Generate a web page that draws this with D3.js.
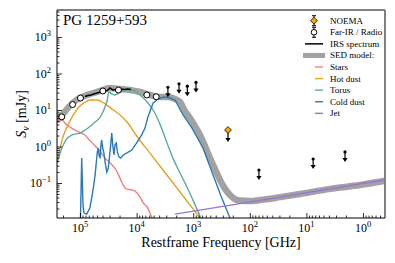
<!DOCTYPE html>
<meta charset="utf-8">
<style>
body { margin: 0; background: #fff; }
text { font-family: "Liberation Serif", "DejaVu Serif", serif; fill: #000; }
.comp { fill: none; stroke-width: 1.4px; }
</style>
<body>
<svg id="chart" width="395" height="263"></svg>
<script src="https://d3js.org/d3.v7.min.js"></script>
<script>
// PG 1259+593 SED, restframe frequency in GHz, flux density in mJy

var sedNu   = [2.55e5, 2.08e5, 1.63e5, 1.22e5, 9.2e4, 6.7e4, 4.4e4, 2.95e4, 1.96e4, 1.31e4, 8.7e3, 5.8e3, 3.86e3, 2.79e3, 2.1e3, 1.71e3, 1.40e3, 1.14e3, 930, 759, 619, 505, 412, 336, 274, 224, 183, 149, 99, 66, 29, 13, 3.8, 1.13, 0.43];
var sedFlux = [5.3, 7.3, 11.4, 17.7, 22.7, 27.4, 33.2, 40, 37.6, 35.3, 31.1, 25.8, 22.7, 22.7, 20, 16.6, 9.4, 6.0, 3.6, 2.07, 1.03, 0.48, 0.242, 0.121, 0.069, 0.047, 0.036, 0.033, 0.032, 0.034, 0.041, 0.050, 0.069, 0.088, 0.113];

var starsNu   = [2.55e5, 2.08e5, 1.77e5, 1.5e5, 1.22e5, 1.0e5, 8.2e4, 6.8e4, 5.6e4, 4.6e4, 3.6e4, 2.9e4, 2.2e4, 1.8e4, 1.5e4, 1.2e4, 1.0e4, 8.7e3, 7.6e3, 6.5e3, 5.3e3, 4.5e3];
var starsFlux = [4.4, 5.3, 4.1, 3.4, 2.8, 2.4, 2.07, 1.5, 1.1, 0.8, 0.48, 0.35, 0.2, 0.1, 0.068, 0.065, 0.055, 0.041, 0.028, 0.022, 0.011, 0.0085];

var hotNu   = [2.55e5, 2.25e5, 2.0e5, 1.7e5, 1.38e5, 1.08e5, 8.5e4, 6.7e4, 5.0e4, 3.8e4, 2.72e4, 1.96e4, 1.48e4, 9.4e3, 5.8e3, 2.57e3, 759, 505];
var hotFlux = [0.353, 0.91, 1.82, 3.4, 6.4, 11.4, 15.6, 18.8, 18.8, 15.6, 10.6, 7.3, 4.7, 1.71, 0.66, 0.129, 0.011, 0.0048];

var torusNu   = [2.55e5, 2.08e5, 1.77e5, 1.38e5, 1.0e5, 7.2e4, 5.4e4, 4.4e4, 3.8e4, 3.3e4, 3.1e4, 2.72e4, 2.41e4, 1.96e4, 1.42e4, 1.07e4, 8.7e3, 6.5e3, 5.1e3, 3.86e3, 2.9e3, 2.28e3, 1.71e3, 1.29e3, 1.01e3, 759, 619];
var torusFlux = [0.353, 0.91, 1.51, 2.07, 2.34, 3.2, 4.7, 6.4, 10, 18.8, 31.1, 27.4, 25.8, 31.1, 35.3, 33.2, 25.8, 16.6, 10, 4.1, 1.25, 0.48, 0.188, 0.078, 0.034, 0.0125, 0.0059];

var coldNu   = [9.8e4, 9.33e4, 8.85e4, 8.5e4, 7.62e4, 6.7e4, 6.21e4, 5.82e4, 5.4e4, 5.21e4, 4.94e4, 4.75e4, 4.61e4, 4.4e4, 4.26e4, 4.14e4, 3.97e4, 3.81e4, 3.6e4, 3.37e4, 3.16e4, 3.03e4, 2.87e4, 2.75e4, 2.64e4, 2.51e4, 2.41e4, 2.28e4, 2.19e4, 2.05e4, 1.91e4, 1.72e4, 1.5e4, 1.22e4, 9.96e3, 8.13e3, 7.1e3, 6.3e3, 5.1e3, 4.19e3, 3.28e3, 2.57e3, 2.1e3, 1.51e3, 1.05e3, 671, 466, 323, 206];
var coldFlux = [0.011, 0.484, 0.025, 0.015, 0.014, 0.0207, 0.039, 0.073, 0.166, 0.31, 0.71, 0.91, 0.585, 0.48, 1.10, 1.51, 0.91, 0.71, 0.376, 0.2, 0.258, 0.48, 1.10, 2.34, 1.10, 0.585, 1.10, 1.25, 0.71, 0.52, 0.48, 0.585, 0.66, 0.80, 1.25, 2.07, 3.2, 6.4, 15.6, 20, 22.7, 21.3, 18.8, 7.3, 3.2, 0.91, 0.2, 0.044, 0.008];

var jetNu   = [2.1e3, 29, 0.43];
var jetFlux = [0.014, 0.041, 0.121];

var irsNu   = [8.2e4, 7.2e4, 6.4e4, 5.7e4, 5.0e4, 4.4e4, 3.8e4, 3.3e4, 2.95e4, 2.61e4, 2.31e4, 1.96e4, 1.67e4, 1.42e4, 1.26e4];
var irsFlux = [23.4, 25.0, 25.8, 27.4, 29.2, 31.1, 33.2, 34.2, 40, 35.3, 36.5, 37.6, 36.5, 37.6, 36.5];

var firNu   = [2.1e5, 1.35e5, 9.8e4, 3.95e4, 2.09e4, 6.6e3, 4.5e3];
var firFlux = [6.5, 14.1, 21.3, 33.2, 35.3, 25.8, 23.1];

var limNu   = [2.8e3, 1.78e3, 1.27e3, 893, 69, 7.6, 2.08];
var limFlux = [42, 52, 45, 57, 0.227, 0.455, 0.71];

var noemaNu   = [243];
var noemaFlux = [2.83];

var nuTicks = [1e5, 1e4, 1e3, 1e2, 1e1, 1e0];
var fluxTicks = [1e3, 1e2, 1e1, 1e0, 1e-1];

var legendItems = ["NOEMA", "Far-IR / Radio", "IRS spectrum", "SED model:", "Stars", "Hot dust", "Torus", "Cold dust", "Jet"];

var colors = {stars: "#ef8080", hot: "#e3a227", torus: "#5fa9a3", cold: "#2b79b6", jet: "#9a72dc", sed: "#a2a2a2"};

var margin = {top: 10, right: 10, bottom: 45, left: 57},
    width  = 385 - margin.left,
    height = 218 - margin.top;

var svg = d3.select('#chart').append('g')
    .attr('transform', 'translate(' + margin.left + ',' + margin.top + ')');

// 10^5 at 23px, 10^0 at 306px; 10^3 at 27px, 10^-1 at 173px
var xScale = d3.scaleLog()
    .domain([Math.pow(10, 5 + 23 * 5 / 283), Math.pow(10, -22 * 5 / 283)])
    .range([0, width]);
var yScale = d3.scaleLog()
    .domain([Math.pow(10, -1 - 35 * 4 / 146), Math.pow(10, 3 + 27 * 4 / 146)])
    .range([height, 0]);

svg.append('clipPath').attr('id', 'clip')
  .append('rect').attr('width', width).attr('height', height);

var plot = svg.append('g').attr('clip-path', 'url(#clip)');

var line = d3.line()
    .x(function(d) { return xScale(d[0]); })
    .y(function(d) { return yScale(d[1]); })
    .curve(d3.curveMonotoneX);

// SED model band
plot.append('path')
    .datum(d3.zip(sedNu, sedFlux))
    .attr('fill', 'none')
    .attr('stroke', colors.sed)
    .attr('stroke-width', 6.5)
    .attr('stroke-linecap', 'round')
    .attr('stroke-linejoin', 'round')
    .attr('d', line);

var comps = [
  [starsNu, starsFlux, colors.stars],
  [hotNu, hotFlux, colors.hot],
  [torusNu, torusFlux, colors.torus],
  [coldNu, coldFlux, colors.cold],
  [jetNu, jetFlux, colors.jet]
];
comps.forEach(function(c) {
  plot.append('path')
      .datum(d3.zip(c[0], c[1]))
      .attr('class', 'comp')
      .attr('stroke', c[2])
      .attr('d', c[0] === coldNu ? d3.line().x(line.x()).y(line.y()).curve(d3.curveLinear) : line);
});

// IRS spectrum
plot.append('path')
    .datum(d3.zip(irsNu, irsFlux))
    .attr('fill', 'none')
    .attr('stroke', '#000')
    .attr('stroke-width', 1.5)
    .attr('d', d3.line().x(line.x()).y(line.y()));

// upper limits: dot + arrow pointing down
function upperLimit(g, x, y, big) {
  g.append('line')
      .attr('x1', x).attr('x2', x)
      .attr('y1', y).attr('y2', y + (big ? 8 : 7))
      .attr('stroke', '#000').attr('stroke-width', 1.2);
  var ty = y + (big ? 12 : 10);
  g.append('path')
      .attr('d', 'M' + (x - 2.6) + ',' + (ty - 4) + 'L' + (x + 2.6) + ',' + (ty - 4) + 'L' + x + ',' + ty + 'Z')
      .attr('fill', '#000');
}

d3.zip(limNu, limFlux).forEach(function(d) {
  var x = xScale(d[0]), y = yScale(d[1]);
  upperLimit(svg, x, y, false);
  svg.append('circle').attr('cx', x).attr('cy', y).attr('r', 1.6).attr('fill', '#000');
});

d3.zip(noemaNu, noemaFlux).forEach(function(d) {
  var x = xScale(d[0]), y = yScale(d[1]);
  upperLimit(svg, x, y, true);
  svg.append('path')
      .attr('d', d3.symbol().type(d3.symbolDiamond2).size(30)())
      .attr('transform', 'translate(' + x + ',' + y + ')')
      .attr('fill', '#ffa500').attr('stroke', '#000').attr('stroke-width', 0.8);
});

svg.selectAll('.fir')
  .data(d3.zip(firNu, firFlux))
  .enter().append('circle')
    .attr('cx', function(d) { return xScale(d[0]); })
    .attr('cy', function(d) { return yScale(d[1]); })
    .attr('r', 3)
    .attr('fill', '#fff').attr('stroke', '#000').attr('stroke-width', 1);

// axes, ticks inward
function minors(dom) {
  var lo = Math.floor(Math.log10(d3.min(dom))), hi = Math.ceil(Math.log10(d3.max(dom)));
  var out = [];
  for (var e = lo; e <= hi; e++)
    for (var k = 2; k < 10; k++) {
      var v = k * Math.pow(10, e);
      if (v >= d3.min(dom) && v <= d3.max(dom)) out.push(v);
    }
  return out;
}

svg.append('g').attr('transform', 'translate(0,' + height + ')')
  .call(d3.axisBottom(xScale).tickValues(nuTicks).tickSize(-5).tickFormat(''))
  .call(function(g) { g.select('.domain').remove(); });
svg.append('g').attr('transform', 'translate(0,' + height + ')')
  .call(d3.axisBottom(xScale).tickValues(minors(xScale.domain())).tickSize(-2.5).tickFormat(''))
  .call(function(g) { g.select('.domain').remove(); });
svg.append('g')
  .call(d3.axisLeft(yScale).tickValues(fluxTicks).tickSize(-5).tickFormat(''))
  .call(function(g) { g.select('.domain').remove(); });
svg.append('g')
  .call(d3.axisLeft(yScale).tickValues(minors(yScale.domain())).tickSize(-2.5).tickFormat(''))
  .call(function(g) { g.select('.domain').remove(); });

svg.selectAll('.tick line').attr('stroke', '#000').attr('stroke-width', 0.8);

// frame
svg.append('line').attr('x1', width).attr('x2', width).attr('y1', 0).attr('y2', height)
  .attr('stroke', '#808080').attr('stroke-width', 2);
svg.append('line').attr('x1', 0).attr('x2', width).attr('y1', 0).attr('y2', 0)
  .attr('stroke', '#808080').attr('stroke-width', 2);
svg.append('line').attr('x1', 0).attr('x2', width).attr('y1', height).attr('y2', height)
  .attr('stroke', '#000').attr('stroke-width', 1);
svg.append('line').attr('x1', 0).attr('x2', 0).attr('y1', 0).attr('y2', height)
  .attr('stroke', '#000').attr('stroke-width', 1);

function expLabel(g, t, x, y, anchor) {
  var e = Math.round(Math.log10(t));
  var txt = g.append('text').attr('x', x).attr('y', y)
      .attr('text-anchor', anchor).style('font-size', '12px');
  txt.append('tspan').text('10');
  txt.append('tspan').attr('dy', -5).style('font-size', '8.5px')
      .text(e < 0 ? '\u2212' + (-e) : e);
}
nuTicks.forEach(function(t) { expLabel(svg, t, xScale(t), height + 14, 'middle'); });
fluxTicks.forEach(function(t) { expLabel(svg, t, -6, yScale(t) + 4, 'end'); });

svg.append('text')
    .attr('x', width / 2).attr('y', height + 29)
    .attr('text-anchor', 'middle')
    .style('font-size', '14px')
    .text('Restframe Frequency [GHz]');

var ylab = svg.append('text')
    .attr('transform', 'translate(-31,' + (height / 2) + ') rotate(-90)')
    .attr('text-anchor', 'middle')
    .style('font-size', '14px');
ylab.append('tspan').style('font-style', 'italic').text('S');
ylab.append('tspan').attr('dy', 3).style('font-size', '10px').style('font-style', 'italic').text('\u03bd');
ylab.append('tspan').attr('dy', -3).text(' [mJy]');

svg.append('text')
    .attr('x', 6).attr('y', 15)
    .style('font-size', '15px')
    .text('PG 1259+593');

// legend
var leg = svg.append('g').attr('transform', 'translate(' + (330 - margin.left) + ',' + (20.7 - margin.top) + ')');
legendItems.forEach(function(name, i) {
  var y = i * 11.58;
  leg.append('text').attr('x', 0).attr('y', y + 3).style('font-size', '9px').text(name);
  if (i === 0 || i === 1) {
    leg.append('line').attr('x1', -16).attr('x2', -16).attr('y1', y - 5).attr('y2', y + 5)
      .attr('stroke', '#000').attr('stroke-width', 1);
    [y - 5, y + 5].forEach(function(cy) {
      leg.append('line').attr('x1', -18).attr('x2', -14).attr('y1', cy).attr('y2', cy)
        .attr('stroke', '#000').attr('stroke-width', 1);
    });
    if (i === 0) {
      leg.append('path').attr('d', d3.symbol().type(d3.symbolDiamond2).size(30)())
        .attr('transform', 'translate(-16,' + y + ')')
        .attr('fill', '#ffa500').attr('stroke', '#000').attr('stroke-width', 0.8);
    } else {
      leg.append('circle').attr('cx', -16).attr('cy', y).attr('r', 2.8)
        .attr('fill', '#fff').attr('stroke', '#000').attr('stroke-width', 1);
    }
  } else if (i === 2) {
    leg.append('line').attr('x1', -25).attr('x2', -7).attr('y1', y).attr('y2', y)
      .attr('stroke', '#000').attr('stroke-width', 1.5);
  } else if (i === 3) {
    leg.append('line').attr('x1', -27).attr('x2', -5).attr('y1', y).attr('y2', y)
      .attr('stroke', colors.sed).attr('stroke-width', 5);
  } else {
    var c = [colors.stars, colors.hot, colors.torus, colors.cold, colors.jet][i - 4];
    leg.append('line').attr('x1', -15).attr('x2', -7).attr('y1', y).attr('y2', y)
      .attr('stroke', c).attr('stroke-width', 1.4);
  }
});
</script>
</body>
